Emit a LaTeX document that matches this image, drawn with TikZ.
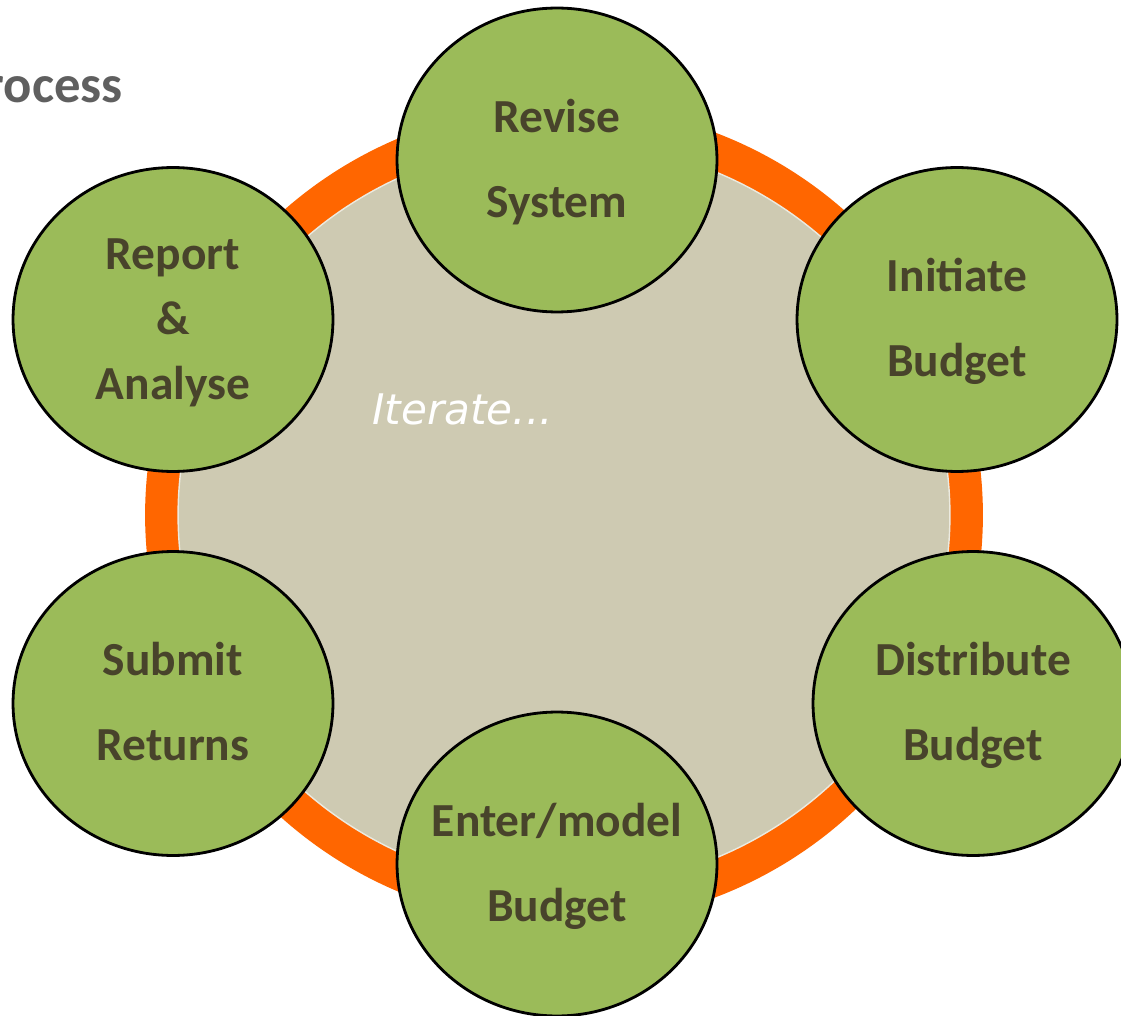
\documentclass[tikz,border=0pt]{standalone}
\usepackage{fontspec}
\setmainfont{Carlito}
\newfontfamily\iterfont{DejaVu Sans}
\usetikzlibrary{shapes.geometric}
\definecolor{ringorange}{HTML}{FF6600}
\definecolor{discbeige}{HTML}{CECAB2}
\definecolor{stepgreen}{HTML}{9BBB59}
\definecolor{steptext}{HTML}{48432B}
\definecolor{titlegrey}{HTML}{5F5F5F}
\begin{document}
\begin{tikzpicture}[x=0.02cm,y=-0.02cm,
  stepdisc/.style={ellipse, draw=black, line width=1.6pt, fill=stepgreen,
    minimum width=6.4cm, minimum height=6.08cm, inner sep=0pt},
  steplabel/.style={anchor=base, align=center, inner sep=0pt, text=steptext},
  twoline/.style={steplabel, font=\fontsize{27}{48.4}\selectfont\bfseries, yshift=-32.72pt},
  threeline/.style={steplabel, font=\fontsize{27}{37}\selectfont\bfseries, yshift=-45.52pt}]
\useasboundingbox (0,0) rectangle (1121,1016);
\clip (0,0) rectangle (1121,1016);
% ring and disc
\node[ellipse, fill=ringorange, inner sep=0pt, minimum width=16.76cm, minimum height=16.4cm] (ring) at (564,515) {};
\node[ellipse, fill=discbeige, draw=white!60!discbeige, line width=0.8pt, inner sep=0pt,
  minimum width=15.44cm, minimum height=14.92cm] (disc) at (564,515) {};
\node[anchor=base west, inner sep=0pt, text=white, font=\iterfont\itshape\fontsize{24}{28}\selectfont] (iterate) at (372,424) {Iterate...};
% title
\node[anchor=base east, inner sep=0pt, text=titlegrey, font=\fontsize{30}{36}\selectfont\bfseries] (title) at (123,103) {rocess};
% step discs
\node[stepdisc] (revise) at (557,160) {};
\node[stepdisc] (initiate) at (957,319.5) {};
\node[stepdisc] (distribute) at (973,703.5) {};
\node[stepdisc] (enter) at (557,864) {};
\node[stepdisc] (submit) at (173,703.5) {};
\node[stepdisc] (report) at (173,319.5) {};
% labels
\node[twoline] (reviseT) at (revise) {Revise\\System};
\node[twoline] (initiateT) at (initiate) {Initiate\\Budget};
\node[twoline] (distributeT) at (distribute) {Distribute\\Budget};
\node[twoline] (enterT) at (enter) {Enter/model\\Budget};
\node[twoline] (submitT) at (submit) {Submit\\Returns};
\node[threeline] (reportT) at (report) {Report\\\&\\Analyse};
\end{tikzpicture}
\end{document}
